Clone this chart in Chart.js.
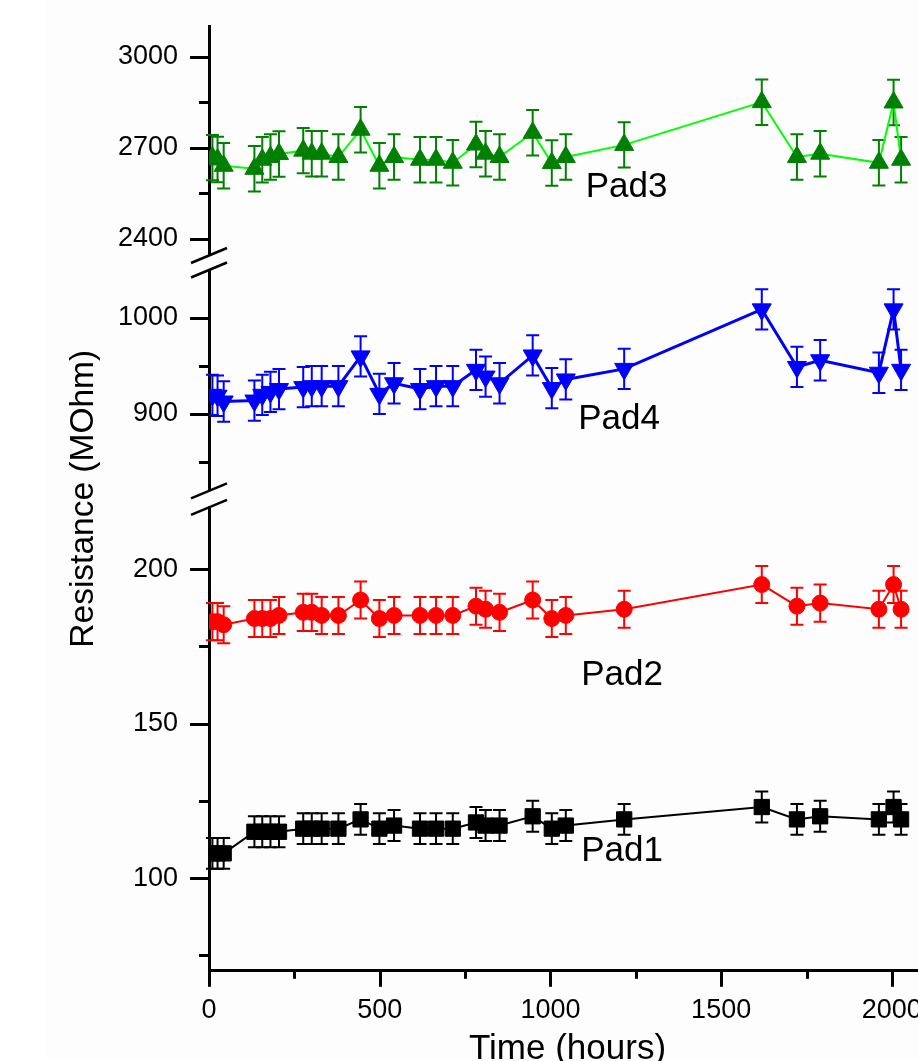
<!DOCTYPE html>
<html>
<head>
<meta charset="utf-8">
<script src="https://cdn.jsdelivr.net/npm/chart.js@4.4.0/dist/chart.umd.min.js"></script>
<style>
    html, body { margin: 0; padding: 0; background: #fff; overflow: hidden; }
    #wrap {
        width: 918px;
        height: 1061px;
        overflow: hidden;
        background: linear-gradient(to right, #ffffff 47px, #fdfdfd 47px);
    }
    #chart { display: block; }
</style>
</head>
<body>
<div id="wrap"><canvas id="chart" width="926" height="1080"></canvas></div>
<script>
// Measurement times (hours)
const timeHours = [10, 25, 43, 133, 156, 180, 205, 276, 301, 330, 379, 444, 499, 542, 618, 665, 714,
    782, 810, 851, 948, 1004, 1045, 1216, 1619, 1722, 1790, 1962, 2005, 2027];

// Resistance (MOhm) per pad
const pad1 = [108, 108, 108, 115, 115, 115, 115, 116, 116, 116, 116, 119, 116, 117, 116, 116, 116,
    118, 117, 117, 120, 116, 117, 119, 123, 119, 120, 119, 123, 119];
const pad2 = [183, 183, 182, 184, 184, 184, 185, 186, 186, 185, 185, 190, 184, 185, 185, 185, 185,
    188, 187, 186, 190, 184, 185, 187, 195, 188, 189, 187, 195, 187];
const pad3 = [2668, 2662, 2641, 2631, 2661, 2670, 2680, 2691, 2681, 2681, 2670, 2760, 2641, 2670, 2661, 2661, 2651,
    2711, 2681, 2670, 2750, 2650, 2670, 2710, 2851, 2670, 2681, 2651, 2850, 2661];
const pad4 = [920, 919, 913, 914, 920, 923, 926, 928, 929, 929, 929, 960, 921, 932, 926, 929, 929,
    946, 939, 932, 961, 927, 936, 947, 1009, 949, 956, 943, 1009, 946];

// error bar half-heights (same for every point of a pad)
const pad1Err = 5;
const pad2Err = 6;
const pad3Err = 75;
const pad4Err = 21;

// tick values
const topMajor = [2400, 2700, 3000];
const topMinor = [2550, 2850];
const midMajor = [900, 1000];
const midMinor = [850, 950];
const botMajor = [100, 150, 200];
const botMinor = [75, 125, 175];
const xMajor = [0, 500, 1000, 1500, 2000];
const xMinor = [250, 750, 1250, 1750];

// text labels next to the curves
const padNames = ["Pad3", "Pad4", "Pad2", "Pad1"];
const padLabelTime = [1223, 1201, 1210, 1210];
const padLabelValue = [2571, 894, 165.7, 108.7];
const padLabelAxis = ["yTop", "yMid", "yBot", "yBot"];

const FONT = "'Liberation Sans', Arial, sans-serif";
Chart.defaults.font.family = FONT;

function points(values) {
    return timeHours.map((t, i) => ({ x: t, y: values[i] }));
}

function tickList(major, minor) {
    return major.concat(minor).sort((a, b) => a - b).map(v => ({ value: v }));
}

function zeroPad(s) {
    s.paddingTop = 0;
    s.paddingBottom = 0;
    s.paddingLeft = 0;
    s.paddingRight = 0;
}

// one segment of the broken resistance axis
function valueAxis(min, max, major, minor, weight, stackWeight) {
    return {
        type: "linear",
        position: "left",
        stack: "res",
        stackWeight: stackWeight,
        weight: weight,
        min: min,
        max: max,
        grid: { display: false, drawTicks: false },
        border: { display: true, width: 3, color: "#000" },
        afterBuildTicks: s => { s.ticks = tickList(major, minor); },
        ticks: {
            color: "#000",
            font: { size: 27 },
            padding: 31,
            autoSkip: false,
            callback: v => major.includes(v) ? String(v) : ""
        },
        afterFit: s => { s.width = 104; zeroPad(s); }
    };
}

// empty piece of the stack that leaves the gap for the axis break
function gapAxis(weight, stackWeight) {
    return {
        type: "linear",
        position: "left",
        stack: "res",
        stackWeight: stackWeight,
        weight: weight,
        grid: { display: false, drawTicks: false },
        border: { display: false },
        ticks: { display: false },
        afterFit: s => { s.width = 104; zeroPad(s); }
    };
}

const errorInfo = {
    Pad1: { err: pad1Err, color: "#000000" },
    Pad2: { err: pad2Err, color: "#ff0000" },
    Pad3: { err: pad3Err, color: "#008000" },
    Pad4: { err: pad4Err, color: "#0000ff" }
};

const errorBars = {
    id: "errorBars",
    beforeDatasetsDraw(chart) {
        const ctx = chart.ctx;
        chart.data.datasets.forEach((ds, i) => {
            const meta = chart.getDatasetMeta(i);
            const ys = chart.scales[ds.yAxisID];
            const info = errorInfo[ds.label];
            ctx.save();
            ctx.strokeStyle = info.color;
            ctx.lineWidth = 2;
            ds.data.forEach((p, j) => {
                const x = meta.data[j].x;
                const hi = ys.getPixelForValue(p.y + info.err);
                const lo = ys.getPixelForValue(p.y - info.err);
                ctx.beginPath();
                ctx.moveTo(x, hi);
                ctx.lineTo(x, lo);
                ctx.moveTo(x - 6.5, hi);
                ctx.lineTo(x + 6.5, hi);
                ctx.moveTo(x - 6.5, lo);
                ctx.lineTo(x + 6.5, lo);
                ctx.stroke();
            });
            ctx.restore();
        });
    }
};

const padText = {
    id: "padText",
    afterDatasetsDraw(chart) {
        const ctx = chart.ctx;
        ctx.save();
        ctx.fillStyle = "#000";
        ctx.font = "35px " + FONT;
        ctx.textAlign = "center";
        ctx.textBaseline = "middle";
        padNames.forEach((name, i) => {
            const x = chart.scales.x.getPixelForValue(padLabelTime[i]);
            const y = chart.scales[padLabelAxis[i]].getPixelForValue(padLabelValue[i]);
            ctx.fillText(name, x, y);
        });
        ctx.restore();
    }
};

const yTickSets = [["yTop", topMajor, topMinor], ["yMid", midMajor, midMinor], ["yBot", botMajor, botMinor]];

// outward tick marks (long major, short minor) and the // break marks
const axisMarks = {
    id: "axisMarks",
    afterDraw(chart) {
        const ctx = chart.ctx;
        const seg = (x1, y1, x2, y2) => {
            ctx.beginPath();
            ctx.moveTo(x1, y1);
            ctx.lineTo(x2, y2);
            ctx.stroke();
        };
        ctx.save();
        ctx.strokeStyle = "#000";
        ctx.lineWidth = 3;
        yTickSets.forEach(([id, major, minor]) => {
            const s = chart.scales[id];
            const ax = s.right;
            major.forEach(v => {
                const y = Math.round(s.getPixelForValue(v)) + 0.5;
                seg(ax - 19, y, ax, y);
            });
            minor.forEach(v => {
                const y = Math.round(s.getPixelForValue(v)) + 0.5;
                seg(ax - 10, y, ax, y);
            });
        });
        const xs = chart.scales.x;
        const ay = xs.top;
        xMajor.forEach(v => {
            const x = Math.round(xs.getPixelForValue(v)) + 0.5;
            seg(x, ay, x, ay + 16);
        });
        xMinor.forEach(v => {
            const x = Math.round(xs.getPixelForValue(v)) + 0.5;
            seg(x, ay, x, ay + 8);
        });

        ctx.lineWidth = 2.5;
        const bx = chart.scales.yTop.right;
        const ends = [chart.scales.yTop.bottom, chart.scales.yMid.top, chart.scales.yMid.bottom, chart.scales.yBot.top];
        ends.forEach(y => seg(bx - 18, y + 7.5, bx + 18, y - 7.5));
        ctx.restore();
    }
};

new Chart(document.getElementById("chart"), {
    type: "line",
    data: {
        datasets: [
            {
                label: "Pad1",
                yAxisID: "yBot",
                data: points(pad1),
                borderColor: "#000000",
                borderWidth: 2,
                pointStyle: "rect",
                pointRadius: 10.8,
                pointBackgroundColor: "#000000",
                pointBorderColor: "#000000",
                pointBorderWidth: 1
            },
            {
                label: "Pad2",
                yAxisID: "yBot",
                data: points(pad2),
                borderColor: "#ff0000",
                borderWidth: 2,
                pointStyle: "circle",
                pointRadius: 8,
                pointBackgroundColor: "#ff0000",
                pointBorderColor: "#ff0000",
                pointBorderWidth: 1
            },
            {
                label: "Pad4",
                yAxisID: "yMid",
                data: points(pad4),
                borderColor: "#0000ff",
                borderWidth: 3,
                pointStyle: "triangle",
                pointRotation: 180,
                pointRadius: 11,
                pointBackgroundColor: "#0000ff",
                pointBorderColor: "#0000ff",
                pointBorderWidth: 1
            },
            {
                label: "Pad3",
                yAxisID: "yTop",
                data: points(pad3),
                borderColor: "#00ff00",
                borderWidth: 2,
                pointStyle: "triangle",
                pointRadius: 11,
                pointBackgroundColor: "#008000",
                pointBorderColor: "#008000",
                pointBorderWidth: 1
            }
        ]
    },
    options: {
        responsive: false,
        animation: false,
        devicePixelRatio: 1,
        events: [],
        layout: { autoPadding: false, padding: { top: 26.7, left: 0, right: 0, bottom: 0 } },
        plugins: {
            legend: { display: false },
            tooltip: { enabled: false }
        },
        elements: { line: { tension: 0 } },
        scales: {
            x: {
                type: "linear",
                position: "bottom",
                min: 0,
                max: 2100,
                grid: { display: false, drawTicks: false },
                border: { display: true, width: 3, color: "#000" },
                afterBuildTicks: s => { s.ticks = tickList(xMajor, xMinor); },
                ticks: {
                    color: "#000",
                    font: { size: 27 },
                    padding: 24,
                    autoSkip: false,
                    maxRotation: 0,
                    callback: v => xMajor.includes(v) ? String(v) : ""
                },
                title: {
                    display: true,
                    text: "Time (hours)",
                    color: "#000",
                    font: { size: 35 },
                    padding: { top: 0, bottom: 9.8 }
                },
                afterFit: s => { s.height = 109.2; zeroPad(s); }
            },
            yTitle: {
                type: "linear",
                position: "left",
                weight: 10,
                grid: { display: false, drawTicks: false },
                border: { display: false },
                ticks: { display: false },
                title: {
                    display: true,
                    text: "Resistance (MOhm)",
                    color: "#000",
                    font: { size: 33.5 },
                    padding: { top: 63.9, bottom: 0 }
                },
                afterFit: s => { s.width = 105; zeroPad(s); }
            },
            yTop: valueAxis(2345, 3100, topMajor, topMinor, 5, 228.8),
            gapA: gapAxis(4, 14.5),
            yMid: valueAxis(820, 1050, midMajor, midMinor, 3, 220.8),
            gapB: gapAxis(2, 16.5),
            yBot: valueAxis(70, 220, botMajor, botMinor, 1, 463.5)
        }
    },
    plugins: [errorBars, padText, axisMarks]
});
</script>
</body>
</html>
